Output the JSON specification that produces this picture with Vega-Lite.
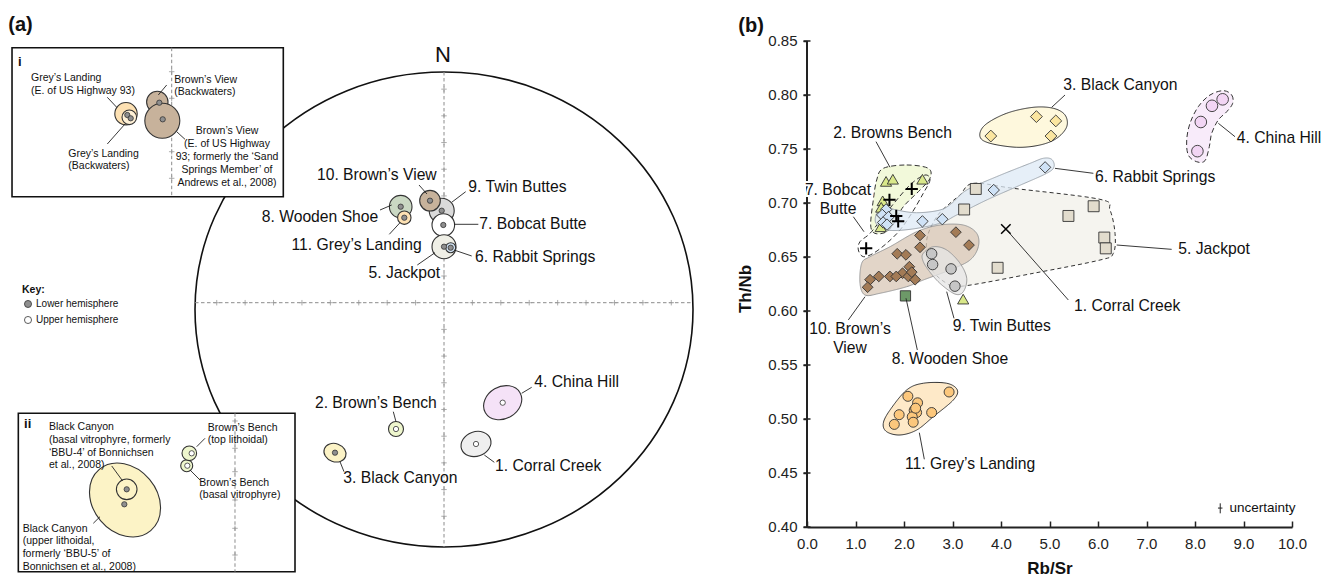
{
  "$schema": "https://vega.github.io/schema/vega-lite/v6.json",
  "background": "white",
  "padding": 5,
  "bounds": "flush",
  "spacing": 102,
  "resolve": {"scale": {"color": "independent", "fill": "independent", "stroke": "independent", "strokeDash": "independent", "shape": "independent", "size": "independent", "angle": "independent"}},
  "config": {"view": {"stroke": null}, "font": "Liberation Sans"},
  "datasets": {
    "netCircle": [{"X": 0, "Y": 0, "r": 1}],
    "netBoxes": [
      {"inset": "i", "X": -1.7349, "Y": 1.1023, "X2": -0.6454, "Y2": 0.4749},
      {"inset": "ii", "X": -1.7096, "Y": -0.4371, "X2": -0.5984, "Y2": -1.104}
    ],
    "netLines": [
      {"X": 0, "Y": 1.0, "X2": 0, "Y2": -1.0},
      {"X": -1.0, "Y": 0.0286, "X2": 1.0, "Y2": 0.0286},
      {"X": -1.0936, "Y": 1.1023, "X2": -1.0936, "Y2": 0.4749},
      {"X": -0.8394, "Y": -0.4371, "X2": -0.8394, "Y2": -1.104}
    ],
    "netTicks": [
      {"X": 0, "Y": 0.141}, {"X": 0, "Y": 0.2534}, {"X": 0, "Y": 0.3658}, {"X": 0, "Y": 0.4782},
      {"X": 0, "Y": 0.5906}, {"X": 0, "Y": 0.703}, {"X": 0, "Y": 0.8154}, {"X": 0, "Y": 0.9278},
      {"X": 0, "Y": -0.0838}, {"X": 0, "Y": -0.1962}, {"X": 0, "Y": -0.3086}, {"X": 0, "Y": -0.421},
      {"X": 0, "Y": -0.5334}, {"X": 0, "Y": -0.6458}, {"X": 0, "Y": -0.7582}, {"X": 0, "Y": -0.8706},
      {"X": 0.1141, "Y": 0.0286}, {"X": 0.2282, "Y": 0.0286}, {"X": 0.3423, "Y": 0.0286}, {"X": 0.4564, "Y": 0.0286},
      {"X": 0.5705, "Y": 0.0286}, {"X": 0.6846, "Y": 0.0286}, {"X": 0.7987, "Y": 0.0286}, {"X": 0.9128, "Y": 0.0286},
      {"X": -0.1141, "Y": 0.0286}, {"X": -0.2282, "Y": 0.0286}, {"X": -0.3423, "Y": 0.0286}, {"X": -0.4564, "Y": 0.0286},
      {"X": -0.5705, "Y": 0.0286}, {"X": -0.6846, "Y": 0.0286}, {"X": -0.7987, "Y": 0.0286}, {"X": -0.9128, "Y": 0.0286},
      {"X": -1.0936, "Y": 1.0013}, {"X": -1.0936, "Y": 0.8893}, {"X": -1.0936, "Y": 0.7768}, {"X": -1.0936, "Y": 0.6644}, {"X": -1.0936, "Y": 0.5524},
      {"X": -0.8394, "Y": -0.4695}, {"X": -0.8394, "Y": -0.5844}, {"X": -0.8394, "Y": -0.6829}, {"X": -0.8394, "Y": -0.8021}, {"X": -0.8394, "Y": -0.9213}, {"X": -0.8394, "Y": -1.0337}
    ],
    "netEllipses": [
      {"unit": "Twin Buttes", "X": -0.0092, "Y": 0.416, "r": 0.0502, "form": "circle", "tilt": 0},
      {"unit": "Browns View", "X": -0.0562, "Y": 0.4581, "r": 0.0414, "form": "circle", "tilt": 0},
      {"unit": "Bobcat Butte", "X": -0.0028, "Y": 0.3558, "r": 0.0454, "form": "circle", "tilt": 0},
      {"unit": "Jackpot", "X": 0, "Y": 0.2644, "r": 0.0482, "form": "circle", "tilt": 0},
      {"unit": "Rabbit Springs", "X": 0.0269, "Y": 0.2602, "r": 0.0201, "form": "circle", "tilt": 0},
      {"unit": "Wooden Shoe", "X": -0.1739, "Y": 0.4328, "r": 0.0454, "form": "circle", "tilt": 0},
      {"unit": "Greys Landing", "X": -0.1594, "Y": 0.3865, "r": 0.0269, "form": "circle", "tilt": 0},
      {"unit": "China Hill", "X": 0.2357, "Y": -0.3924, "r": 0.0803, "form": "ellipse", "tilt": -30},
      {"unit": "Corral Creek", "X": 0.1285, "Y": -0.5663, "r": 0.0614, "form": "ellipse", "tilt": -20},
      {"unit": "Browns Bench", "X": -0.1928, "Y": -0.5032, "r": 0.0301, "form": "circle", "tilt": 0},
      {"unit": "Black Canyon", "X": -0.4378, "Y": -0.6029, "r": 0.0454, "form": "ellipse", "tilt": 20},
      {"unit": "Browns View", "X": -1.1514, "Y": 0.8737, "r": 0.043, "form": "circle", "tilt": 0},
      {"unit": "Browns View", "X": -1.1313, "Y": 0.7949, "r": 0.0703, "form": "circle", "tilt": 0},
      {"unit": "Greys Landing", "X": -1.2771, "Y": 0.8244, "r": 0.045, "form": "circle", "tilt": 0},
      {"unit": "Greys Landing (Backwaters)", "X": -1.2639, "Y": 0.8093, "r": 0.0293, "form": "circle", "tilt": 0},
      {"unit": "Black Canyon", "X": -1.2811, "Y": -0.8021, "r": 0.1606, "form": "ellipse", "tilt": 50},
      {"unit": "Black Canyon", "X": -1.2743, "Y": -0.7571, "r": 0.0414, "form": "circle", "tilt": 0},
      {"unit": "Browns Bench", "X": -1.0333, "Y": -0.6577, "r": 0.0241, "form": "circle", "tilt": 0},
      {"unit": "Browns Bench", "X": -1.0229, "Y": -0.6055, "r": 0.0293, "form": "circle", "tilt": 0}
    ],
    "netDots": [
      {"X": -0.0092, "Y": 0.416, "hemi": "lower"}, {"X": -0.0562, "Y": 0.4581, "hemi": "lower"},
      {"X": -0.0028, "Y": 0.3558, "hemi": "lower"}, {"X": 0, "Y": 0.2644, "hemi": "lower"},
      {"X": 0.0269, "Y": 0.2602, "hemi": "lower"}, {"X": -0.1739, "Y": 0.4328, "hemi": "lower"},
      {"X": -0.1594, "Y": 0.3865, "hemi": "lower"}, {"X": -0.4378, "Y": -0.6029, "hemi": "lower"},
      {"X": 0.2357, "Y": -0.3924, "hemi": "upper"}, {"X": 0.1285, "Y": -0.5663, "hemi": "upper"},
      {"X": -0.1928, "Y": -0.5032, "hemi": "upper"},
      {"X": -1.1434, "Y": 0.8707, "hemi": "lower"}, {"X": -1.1297, "Y": 0.8008, "hemi": "lower"},
      {"X": -1.2719, "Y": 0.8189, "hemi": "lower"}, {"X": -1.2582, "Y": 0.8051, "hemi": "lower"},
      {"X": -1.2743, "Y": -0.7571, "hemi": "lower"}, {"X": -1.2839, "Y": -0.8202, "hemi": "lower"},
      {"X": -1.0133, "Y": -0.6055, "hemi": "upper"}, {"X": -1.0309, "Y": -0.6577, "hemi": "upper"}
    ],
    "netLeaders": [
      {"X": -0.1004, "Y": 0.5242, "X2": -0.0683, "Y2": 0.4863},
      {"X": 0.0309, "Y": 0.4514, "X2": 0.0871, "Y2": 0.496},
      {"X": 0.0402, "Y": 0.3587, "X2": 0.1378, "Y2": 0.3587},
      {"X": 0.0402, "Y": 0.2505, "X2": 0.1112, "Y2": 0.2253},
      {"X": -0.0361, "Y": 0.2392, "X2": -0.1072, "Y2": 0.1874},
      {"X": -0.257, "Y": 0.4189, "X2": -0.21, "Y2": 0.44},
      {"X": -0.2197, "Y": 0.3166, "X2": -0.1767, "Y2": 0.3655},
      {"X": 0.312, "Y": -0.3528, "X2": 0.3522, "Y2": -0.3276},
      {"X": -0.2036, "Y": -0.4303, "X2": -0.1928, "Y2": -0.4724},
      {"X": -0.4177, "Y": -0.6408, "X2": -0.4016, "Y2": -0.6829},
      {"X": 0.1618, "Y": -0.6126, "X2": 0.202, "Y2": -0.6434},
      {"X": -1.3522, "Y": 0.8935, "X2": -1.3145, "Y2": 0.8514},
      {"X": -1.3522, "Y": 0.6968, "X2": -1.2811, "Y2": 0.7811},
      {"X": -1.1474, "Y": 0.9032, "X2": -1.1137, "Y2": 0.9453},
      {"X": -1.0735, "Y": 0.7486, "X2": -1.0402, "Y2": 0.7166},
      {"X": -1.3345, "Y": -0.6589, "X2": -1.2904, "Y2": -0.7221},
      {"X": -1.4084, "Y": -0.9002, "X2": -1.3815, "Y2": -0.8724},
      {"X": -0.9932, "Y": -0.5777, "X2": -0.9598, "Y2": -0.5423},
      {"X": -1.0201, "Y": -0.6758, "X2": -0.9799, "Y2": -0.7179}
    ],
    "netText": [
      {"kind": "label-left", "text": "9. Twin Buttes", "X": 0.0976, "Y": 0.5171},
      {"kind": "label-left", "text": "7. Bobcat Butte", "X": 0.1418, "Y": 0.3587},
      {"kind": "label-left", "text": "6. Rabbit Springs", "X": 0.1245, "Y": 0.2223},
      {"kind": "label-left", "text": "4. China Hill", "X": 0.3627, "Y": -0.3053},
      {"kind": "label-left", "text": "3. Black Canyon", "X": -0.4044, "Y": -0.7082},
      {"kind": "label-left", "text": "1. Corral Creek", "X": 0.2048, "Y": -0.6589},
      {"kind": "label-right", "text": "10. Brown’s View", "X": -0.0293, "Y": 0.5663},
      {"kind": "label-right", "text": "5. Jackpot", "X": -0.0161, "Y": 0.1549},
      {"kind": "label-right", "text": "8. Wooden Shoe", "X": -0.2639, "Y": 0.3882},
      {"kind": "label-right", "text": "11. Grey’s Landing", "X": -0.0896, "Y": 0.2716},
      {"kind": "label-right", "text": "2. Brown’s Bench", "X": -0.0293, "Y": -0.3924},
      {"kind": "north", "text": "N", "X": -0.004, "Y": 1.0716},
      {"kind": "panel", "text": "(a)", "X": -1.7498, "Y": 1.1979},
      {"kind": "inset-left", "text": "Grey’s Landing\n(E. of US Highway 93)", "X": -1.6586, "Y": 0.9959},
      {"kind": "inset-left", "text": "Grey’s Landing\n(Backwaters)", "X": -1.5088, "Y": 0.6772},
      {"kind": "inset-left", "text": "Brown’s View\n(Backwaters)", "X": -1.0831, "Y": 0.9888},
      {"kind": "inset-left", "text": "Black Canyon\n(basal vitrophyre, formerly\n‘BBU-4’ of Bonnichsen\net al., 2008)", "X": -1.5863, "Y": -0.4737},
      {"kind": "inset-left", "text": "Black Canyon\n(upper lithoidal,\n formerly ‘BBU-5’ of\nBonnichsen et al., 2008)", "X": -1.692, "Y": -0.9015},
      {"kind": "inset-left", "text": "Brown’s Bench\n(top lithoidal)", "X": -0.949, "Y": -0.4762},
      {"kind": "inset-left", "text": "Brown’s Bench\n(basal vitrophyre)", "X": -0.9827, "Y": -0.7078},
      {"kind": "inset-center", "text": "Brown’s View\n(E. of US Highway\n93; formerly the ‘Sand\nSprings Member’ of\nAndrews et al., 2008)", "X": -0.8715, "Y": 0.7726},
      {"kind": "inset-tag", "text": "i", "X": -1.7108, "Y": 1.0434},
      {"kind": "inset-tag", "text": "ii", "X": -1.6867, "Y": -0.4821},
      {"kind": "key-title", "text": "Key:", "X": -1.6948, "Y": 0.0821}
    ],
    "netKey": [
      {"X": -1.6707, "Y": 0.0232, "hemi": "lower", "text": "Lower hemisphere"},
      {"X": -1.6707, "Y": -0.0442, "hemi": "upper", "text": "Upper hemisphere"}
    ],
    "blobs": [
      {"unit": "Jackpot", "i": 1, "RbSr": 3.155, "ThNb": 0.7074}, {"unit": "Jackpot", "i": 2, "RbSr": 3.43, "ThNb": 0.7182},
      {"unit": "Jackpot", "i": 3, "RbSr": 4.254, "ThNb": 0.7136}, {"unit": "Jackpot", "i": 4, "RbSr": 6.041, "ThNb": 0.7034},
      {"unit": "Jackpot", "i": 5, "RbSr": 6.247, "ThNb": 0.6935}, {"unit": "Jackpot", "i": 6, "RbSr": 6.351, "ThNb": 0.6719},
      {"unit": "Jackpot", "i": 7, "RbSr": 6.316, "ThNb": 0.6534}, {"unit": "Jackpot", "i": 8, "RbSr": 6.041, "ThNb": 0.6472},
      {"unit": "Jackpot", "i": 9, "RbSr": 4.666, "ThNb": 0.6349}, {"unit": "Jackpot", "i": 10, "RbSr": 3.223, "ThNb": 0.6231},
      {"unit": "Jackpot", "i": 11, "RbSr": 2.88, "ThNb": 0.6256}, {"unit": "Jackpot", "i": 12, "RbSr": 2.536, "ThNb": 0.641},
      {"unit": "Jackpot", "i": 13, "RbSr": 2.468, "ThNb": 0.6657}, {"unit": "Jackpot", "i": 14, "RbSr": 2.674, "ThNb": 0.6873},
      {"unit": "Jackpot", "i": 15, "RbSr": 2.948, "ThNb": 0.6997},
      {"unit": "Browns Bench", "i": 1, "RbSr": 1.573, "ThNb": 0.7321}, {"unit": "Browns Bench", "i": 2, "RbSr": 2.056, "ThNb": 0.7352},
      {"unit": "Browns Bench", "i": 3, "RbSr": 2.501, "ThNb": 0.7321}, {"unit": "Browns Bench", "i": 4, "RbSr": 2.536, "ThNb": 0.7229},
      {"unit": "Browns Bench", "i": 5, "RbSr": 2.33, "ThNb": 0.712}, {"unit": "Browns Bench", "i": 6, "RbSr": 1.986, "ThNb": 0.6966},
      {"unit": "Browns Bench", "i": 7, "RbSr": 1.814, "ThNb": 0.6827}, {"unit": "Browns Bench", "i": 8, "RbSr": 1.643, "ThNb": 0.6734},
      {"unit": "Browns Bench", "i": 9, "RbSr": 1.402, "ThNb": 0.6719}, {"unit": "Browns Bench", "i": 10, "RbSr": 1.313, "ThNb": 0.6796},
      {"unit": "Browns Bench", "i": 11, "RbSr": 1.367, "ThNb": 0.7028}, {"unit": "Browns Bench", "i": 12, "RbSr": 1.437, "ThNb": 0.7213},
      {"unit": "Bobcat Butte", "i": 1, "RbSr": 1.093, "ThNb": 0.6642}, {"unit": "Bobcat Butte", "i": 2, "RbSr": 1.299, "ThNb": 0.6719},
      {"unit": "Bobcat Butte", "i": 3, "RbSr": 1.573, "ThNb": 0.6873}, {"unit": "Bobcat Butte", "i": 4, "RbSr": 1.849, "ThNb": 0.7028},
      {"unit": "Bobcat Butte", "i": 5, "RbSr": 2.159, "ThNb": 0.7182}, {"unit": "Bobcat Butte", "i": 6, "RbSr": 2.433, "ThNb": 0.7259},
      {"unit": "Bobcat Butte", "i": 7, "RbSr": 2.536, "ThNb": 0.7213}, {"unit": "Bobcat Butte", "i": 8, "RbSr": 2.398, "ThNb": 0.709},
      {"unit": "Bobcat Butte", "i": 9, "RbSr": 2.159, "ThNb": 0.6905}, {"unit": "Bobcat Butte", "i": 10, "RbSr": 1.918, "ThNb": 0.675},
      {"unit": "Bobcat Butte", "i": 11, "RbSr": 1.643, "ThNb": 0.6627}, {"unit": "Bobcat Butte", "i": 12, "RbSr": 1.367, "ThNb": 0.6534},
      {"unit": "Bobcat Butte", "i": 13, "RbSr": 1.161, "ThNb": 0.6503}, {"unit": "Bobcat Butte", "i": 14, "RbSr": 1.058, "ThNb": 0.6565},
      {"unit": "Rabbit Springs", "i": 1, "RbSr": 1.643, "ThNb": 0.675}, {"unit": "Rabbit Springs", "i": 2, "RbSr": 2.124, "ThNb": 0.6756},
      {"unit": "Rabbit Springs", "i": 3, "RbSr": 2.742, "ThNb": 0.6812}, {"unit": "Rabbit Springs", "i": 4, "RbSr": 3.087, "ThNb": 0.6889},
      {"unit": "Rabbit Springs", "i": 5, "RbSr": 3.705, "ThNb": 0.7028}, {"unit": "Rabbit Springs", "i": 6, "RbSr": 4.324, "ThNb": 0.7151},
      {"unit": "Rabbit Springs", "i": 7, "RbSr": 4.942, "ThNb": 0.7275}, {"unit": "Rabbit Springs", "i": 8, "RbSr": 5.093, "ThNb": 0.7336},
      {"unit": "Rabbit Springs", "i": 9, "RbSr": 5.045, "ThNb": 0.7404}, {"unit": "Rabbit Springs", "i": 10, "RbSr": 4.873, "ThNb": 0.7414},
      {"unit": "Rabbit Springs", "i": 11, "RbSr": 4.598, "ThNb": 0.7367}, {"unit": "Rabbit Springs", "i": 12, "RbSr": 3.911, "ThNb": 0.7244},
      {"unit": "Rabbit Springs", "i": 13, "RbSr": 3.293, "ThNb": 0.712}, {"unit": "Rabbit Springs", "i": 14, "RbSr": 2.983, "ThNb": 0.6997},
      {"unit": "Rabbit Springs", "i": 15, "RbSr": 2.742, "ThNb": 0.6935}, {"unit": "Rabbit Springs", "i": 16, "RbSr": 2.261, "ThNb": 0.691},
      {"unit": "Rabbit Springs", "i": 17, "RbSr": 1.849, "ThNb": 0.6935}, {"unit": "Rabbit Springs", "i": 18, "RbSr": 1.574, "ThNb": 0.6966},
      {"unit": "Rabbit Springs", "i": 19, "RbSr": 1.437, "ThNb": 0.6905}, {"unit": "Rabbit Springs", "i": 20, "RbSr": 1.423, "ThNb": 0.6812},
      {"unit": "Browns View", "i": 1, "RbSr": 1.128, "ThNb": 0.6442}, {"unit": "Browns View", "i": 2, "RbSr": 1.299, "ThNb": 0.6503},
      {"unit": "Browns View", "i": 3, "RbSr": 1.711, "ThNb": 0.6595}, {"unit": "Browns View", "i": 4, "RbSr": 2.262, "ThNb": 0.6734},
      {"unit": "Browns View", "i": 5, "RbSr": 2.742, "ThNb": 0.6796}, {"unit": "Browns View", "i": 6, "RbSr": 3.223, "ThNb": 0.6796},
      {"unit": "Browns View", "i": 7, "RbSr": 3.499, "ThNb": 0.6719}, {"unit": "Browns View", "i": 8, "RbSr": 3.532, "ThNb": 0.6595},
      {"unit": "Browns View", "i": 9, "RbSr": 3.361, "ThNb": 0.6472}, {"unit": "Browns View", "i": 10, "RbSr": 2.948, "ThNb": 0.638},
      {"unit": "Browns View", "i": 11, "RbSr": 2.398, "ThNb": 0.6287}, {"unit": "Browns View", "i": 12, "RbSr": 2.056, "ThNb": 0.6225},
      {"unit": "Browns View", "i": 13, "RbSr": 1.505, "ThNb": 0.6164}, {"unit": "Browns View", "i": 14, "RbSr": 1.196, "ThNb": 0.6148},
      {"unit": "Browns View", "i": 15, "RbSr": 1.093, "ThNb": 0.6256},
      {"unit": "Twin Buttes", "i": 1, "RbSr": 2.398, "ThNb": 0.6534}, {"unit": "Twin Buttes", "i": 2, "RbSr": 2.604, "ThNb": 0.6595},
      {"unit": "Twin Buttes", "i": 3, "RbSr": 2.88, "ThNb": 0.6565}, {"unit": "Twin Buttes", "i": 4, "RbSr": 3.155, "ThNb": 0.6442},
      {"unit": "Twin Buttes", "i": 5, "RbSr": 3.293, "ThNb": 0.6303}, {"unit": "Twin Buttes", "i": 6, "RbSr": 3.223, "ThNb": 0.6179},
      {"unit": "Twin Buttes", "i": 7, "RbSr": 3.052, "ThNb": 0.6157}, {"unit": "Twin Buttes", "i": 8, "RbSr": 2.742, "ThNb": 0.6256},
      {"unit": "Twin Buttes", "i": 9, "RbSr": 2.501, "ThNb": 0.638}, {"unit": "Twin Buttes", "i": 10, "RbSr": 2.385, "ThNb": 0.6472},
      {"unit": "Black Canyon", "i": 1, "RbSr": 3.567, "ThNb": 0.7614}, {"unit": "Black Canyon", "i": 2, "RbSr": 3.67, "ThNb": 0.7722},
      {"unit": "Black Canyon", "i": 3, "RbSr": 4.118, "ThNb": 0.7831}, {"unit": "Black Canyon", "i": 4, "RbSr": 4.666, "ThNb": 0.7886},
      {"unit": "Black Canyon", "i": 5, "RbSr": 5.078, "ThNb": 0.7877}, {"unit": "Black Canyon", "i": 6, "RbSr": 5.32, "ThNb": 0.7815},
      {"unit": "Black Canyon", "i": 7, "RbSr": 5.355, "ThNb": 0.7706}, {"unit": "Black Canyon", "i": 8, "RbSr": 5.148, "ThNb": 0.7599},
      {"unit": "Black Canyon", "i": 9, "RbSr": 4.804, "ThNb": 0.7537}, {"unit": "Black Canyon", "i": 10, "RbSr": 4.324, "ThNb": 0.7516},
      {"unit": "Black Canyon", "i": 11, "RbSr": 3.773, "ThNb": 0.7553},
      {"unit": "China Hill", "i": 1, "RbSr": 8.584, "ThNb": 0.804}, {"unit": "China Hill", "i": 2, "RbSr": 8.757, "ThNb": 0.8},
      {"unit": "China Hill", "i": 3, "RbSr": 8.777, "ThNb": 0.7923}, {"unit": "China Hill", "i": 4, "RbSr": 8.654, "ThNb": 0.7845},
      {"unit": "China Hill", "i": 5, "RbSr": 8.481, "ThNb": 0.7769}, {"unit": "China Hill", "i": 6, "RbSr": 8.344, "ThNb": 0.7645},
      {"unit": "China Hill", "i": 7, "RbSr": 8.295, "ThNb": 0.7521}, {"unit": "China Hill", "i": 8, "RbSr": 8.206, "ThNb": 0.7392},
      {"unit": "China Hill", "i": 9, "RbSr": 8.035, "ThNb": 0.7382}, {"unit": "China Hill", "i": 10, "RbSr": 7.862, "ThNb": 0.7444},
      {"unit": "China Hill", "i": 11, "RbSr": 7.829, "ThNb": 0.7583}, {"unit": "China Hill", "i": 12, "RbSr": 7.897, "ThNb": 0.7738},
      {"unit": "China Hill", "i": 13, "RbSr": 8.068, "ThNb": 0.7892}, {"unit": "China Hill", "i": 14, "RbSr": 8.309, "ThNb": 0.8},
      {"unit": "Greys Landing", "i": 1, "RbSr": 1.573, "ThNb": 0.496}, {"unit": "Greys Landing", "i": 2, "RbSr": 1.711, "ThNb": 0.5083},
      {"unit": "Greys Landing", "i": 3, "RbSr": 2.056, "ThNb": 0.5269}, {"unit": "Greys Landing", "i": 4, "RbSr": 2.398, "ThNb": 0.5331},
      {"unit": "Greys Landing", "i": 5, "RbSr": 2.88, "ThNb": 0.5331}, {"unit": "Greys Landing", "i": 6, "RbSr": 3.099, "ThNb": 0.5269},
      {"unit": "Greys Landing", "i": 7, "RbSr": 3.017, "ThNb": 0.5176}, {"unit": "Greys Landing", "i": 8, "RbSr": 2.604, "ThNb": 0.5021},
      {"unit": "Greys Landing", "i": 9, "RbSr": 2.262, "ThNb": 0.4898}, {"unit": "Greys Landing", "i": 10, "RbSr": 1.918, "ThNb": 0.4852},
      {"unit": "Greys Landing", "i": 11, "RbSr": 1.643, "ThNb": 0.4882}
    ],
    "bPoints": [
      {"unit": "Black Canyon", "RbSr": 3.79, "ThNb": 0.762}, {"unit": "Black Canyon", "RbSr": 4.73, "ThNb": 0.78},
      {"unit": "Black Canyon", "RbSr": 5.13, "ThNb": 0.776}, {"unit": "Black Canyon", "RbSr": 5.03, "ThNb": 0.762},
      {"unit": "China Hill", "RbSr": 8.57, "ThNb": 0.796}, {"unit": "China Hill", "RbSr": 8.35, "ThNb": 0.79},
      {"unit": "China Hill", "RbSr": 8.12, "ThNb": 0.775}, {"unit": "China Hill", "RbSr": 8.05, "ThNb": 0.748},
      {"unit": "Jackpot", "RbSr": 3.48, "ThNb": 0.713}, {"unit": "Jackpot", "RbSr": 3.24, "ThNb": 0.694},
      {"unit": "Jackpot", "RbSr": 5.39, "ThNb": 0.688}, {"unit": "Jackpot", "RbSr": 5.91, "ThNb": 0.697},
      {"unit": "Jackpot", "RbSr": 6.13, "ThNb": 0.668}, {"unit": "Jackpot", "RbSr": 6.16, "ThNb": 0.658},
      {"unit": "Jackpot", "RbSr": 3.93, "ThNb": 0.64},
      {"unit": "Browns Bench", "RbSr": 1.63, "ThNb": 0.72}, {"unit": "Browns Bench", "RbSr": 1.77, "ThNb": 0.722},
      {"unit": "Browns Bench", "RbSr": 2.38, "ThNb": 0.722}, {"unit": "Browns Bench", "RbSr": 1.56, "ThNb": 0.702},
      {"unit": "Browns Bench", "RbSr": 1.53, "ThNb": 0.696}, {"unit": "Browns Bench", "RbSr": 1.52, "ThNb": 0.678},
      {"unit": "Browns Bench", "RbSr": 3.22, "ThNb": 0.611},
      {"unit": "Rabbit Springs", "RbSr": 4.91, "ThNb": 0.733}, {"unit": "Rabbit Springs", "RbSr": 3.85, "ThNb": 0.712},
      {"unit": "Rabbit Springs", "RbSr": 2.79, "ThNb": 0.685}, {"unit": "Rabbit Springs", "RbSr": 2.38, "ThNb": 0.683},
      {"unit": "Rabbit Springs", "RbSr": 1.63, "ThNb": 0.694}, {"unit": "Rabbit Springs", "RbSr": 1.55, "ThNb": 0.689},
      {"unit": "Rabbit Springs", "RbSr": 1.68, "ThNb": 0.687}, {"unit": "Rabbit Springs", "RbSr": 1.57, "ThNb": 0.682},
      {"unit": "Rabbit Springs", "RbSr": 1.65, "ThNb": 0.68},
      {"unit": "Twin Buttes", "RbSr": 2.57, "ThNb": 0.653}, {"unit": "Twin Buttes", "RbSr": 2.59, "ThNb": 0.643},
      {"unit": "Twin Buttes", "RbSr": 2.97, "ThNb": 0.639}, {"unit": "Twin Buttes", "RbSr": 3.05, "ThNb": 0.623},
      {"unit": "Browns View", "RbSr": 2.33, "ThNb": 0.67}, {"unit": "Browns View", "RbSr": 3.07, "ThNb": 0.673},
      {"unit": "Browns View", "RbSr": 3.34, "ThNb": 0.661}, {"unit": "Browns View", "RbSr": 2.33, "ThNb": 0.659},
      {"unit": "Browns View", "RbSr": 1.86, "ThNb": 0.653}, {"unit": "Browns View", "RbSr": 2.04, "ThNb": 0.652},
      {"unit": "Browns View", "RbSr": 2.11, "ThNb": 0.641}, {"unit": "Browns View", "RbSr": 1.97, "ThNb": 0.635},
      {"unit": "Browns View", "RbSr": 1.71, "ThNb": 0.632}, {"unit": "Browns View", "RbSr": 1.84, "ThNb": 0.632},
      {"unit": "Browns View", "RbSr": 1.48, "ThNb": 0.632}, {"unit": "Browns View", "RbSr": 1.3, "ThNb": 0.629},
      {"unit": "Browns View", "RbSr": 1.25, "ThNb": 0.622}, {"unit": "Browns View", "RbSr": 2.09, "ThNb": 0.632},
      {"unit": "Browns View", "RbSr": 2.23, "ThNb": 0.629}, {"unit": "Browns View", "RbSr": 2.16, "ThNb": 0.636},
      {"unit": "Wooden Shoe", "RbSr": 2.03, "ThNb": 0.614},
      {"unit": "Greys Landing", "RbSr": 2.08, "ThNb": 0.521}, {"unit": "Greys Landing", "RbSr": 2.93, "ThNb": 0.525},
      {"unit": "Greys Landing", "RbSr": 2.28, "ThNb": 0.515}, {"unit": "Greys Landing", "RbSr": 1.9, "ThNb": 0.504},
      {"unit": "Greys Landing", "RbSr": 2.21, "ThNb": 0.508}, {"unit": "Greys Landing", "RbSr": 2.26, "ThNb": 0.506},
      {"unit": "Greys Landing", "RbSr": 2.57, "ThNb": 0.506}, {"unit": "Greys Landing", "RbSr": 2.17, "ThNb": 0.502},
      {"unit": "Greys Landing", "RbSr": 1.8, "ThNb": 0.495}, {"unit": "Greys Landing", "RbSr": 2.19, "ThNb": 0.497},
      {"unit": "Greys Landing", "RbSr": 2.24, "ThNb": 0.51},
      {"unit": "Bobcat Butte", "RbSr": 2.16, "ThNb": 0.713}, {"unit": "Bobcat Butte", "RbSr": 1.7, "ThNb": 0.703},
      {"unit": "Bobcat Butte", "RbSr": 1.84, "ThNb": 0.688}, {"unit": "Bobcat Butte", "RbSr": 1.88, "ThNb": 0.683},
      {"unit": "Bobcat Butte", "RbSr": 1.22, "ThNb": 0.658},
      {"unit": "Corral Creek", "RbSr": 4.1, "ThNb": 0.676}
    ],
    "bLeaders": [
      {"RbSr": 5.32, "ThNb": 0.8, "RbSr2": 5.045, "ThNb2": 0.7886},
      {"RbSr": 8.825, "ThNb": 0.7614, "RbSr2": 8.481, "ThNb2": 0.7738},
      {"RbSr": 1.423, "ThNb": 0.7568, "RbSr2": 1.711, "ThNb2": 0.7331},
      {"RbSr": 5.113, "ThNb": 0.7321, "RbSr2": 5.904, "ThNb2": 0.7275},
      {"RbSr": 0.955, "ThNb": 0.6873, "RbSr2": 1.175, "ThNb2": 0.6734},
      {"RbSr": 6.385, "ThNb": 0.6611, "RbSr2": 7.519, "ThNb2": 0.6571},
      {"RbSr": 4.118, "ThNb": 0.675, "RbSr2": 5.388, "ThNb2": 0.6102},
      {"RbSr": 2.88, "ThNb": 0.6179, "RbSr2": 3.031, "ThNb2": 0.5932},
      {"RbSr": 0.852, "ThNb": 0.5917, "RbSr2": 1.196, "ThNb2": 0.6132},
      {"RbSr": 2.041, "ThNb": 0.6118, "RbSr2": 2.275, "ThNb2": 0.5639},
      {"RbSr": 2.316, "ThNb": 0.4873, "RbSr2": 2.419, "ThNb2": 0.4627}
    ],
    "bText": [
      {"kind": "label-left", "text": "3. Black Canyon", "RbSr": 5.285, "ThNb": 0.8093},
      {"kind": "label-left", "text": "4. China Hill", "RbSr": 8.86, "ThNb": 0.7599},
      {"kind": "label-left", "text": "2. Browns Bench", "RbSr": 0.543, "ThNb": 0.7651},
      {"kind": "label-left", "text": "6. Rabbit Springs", "RbSr": 5.938, "ThNb": 0.7244},
      {"kind": "label-left", "text": "5. Jackpot", "RbSr": 7.656, "ThNb": 0.6571},
      {"kind": "label-left", "text": "1. Corral Creek", "RbSr": 5.505, "ThNb": 0.6049},
      {"kind": "label-left", "text": "9. Twin Buttes", "RbSr": 3.004, "ThNb": 0.5861},
      {"kind": "label-left", "text": "8. Wooden Shoe", "RbSr": 1.746, "ThNb": 0.5559},
      {"kind": "label-left", "text": "11. Grey’s Landing", "RbSr": 2.021, "ThNb": 0.4581},
      {"kind": "label-center", "text": "7. Bobcat\nButte", "RbSr": 0.64, "ThNb": 0.7182},
      {"kind": "label-center", "text": "10. Brown’s\nView", "RbSr": 0.887, "ThNb": 0.5898},
      {"kind": "panel", "text": "(b)", "RbSr": -1.4165, "ThNb": 0.8639},
      {"kind": "note", "text": "uncertainty", "RbSr": 8.71, "ThNb": 0.4173}
    ],
    "bSymbol": [{"RbSr": 8.52, "ThNb": 0.4173}],
    "bYAxis": [{"RbSr": 0, "ThNb": 0.4}, {"RbSr": 0, "ThNb": 0.85}],
    "bYTicks": [
      {"RbSr": 0, "ThNb": 0.4}, {"RbSr": 0, "ThNb": 0.45}, {"RbSr": 0, "ThNb": 0.5}, {"RbSr": 0, "ThNb": 0.55}, {"RbSr": 0, "ThNb": 0.6},
      {"RbSr": 0, "ThNb": 0.65}, {"RbSr": 0, "ThNb": 0.7}, {"RbSr": 0, "ThNb": 0.75}, {"RbSr": 0, "ThNb": 0.8}, {"RbSr": 0, "ThNb": 0.85}
    ]
  },
  "hconcat": [
    {
      "width": 700,
      "height": 567,
      "encoding": {
        "x": {"field": "X", "type": "quantitative", "scale": {"domain": [-1.7631, 1.0482], "nice": false, "zero": false}, "axis": null},
        "y": {"field": "Y", "type": "quantitative", "scale": {"domain": [-1.1053, 1.2821], "nice": false, "zero": false}, "axis": null}
      },
      "layer": [
        {
          "data": {"name": "netCircle"},
          "mark": {"type": "point", "shape": "M -1 0 A 1 0.9538 0 1 1 1 0 A 1 0.9538 0 1 1 -1 0 Z", "filled": false, "opacity": 1, "color": "#111", "stroke": "#111", "strokeWidth": 1.6},
          "encoding": {"size": {"field": "r", "type": "quantitative", "scale": {"type": "pow", "exponent": 2, "domain": [0, 1], "range": [0, 248004]}, "legend": null}}
        },
        {
          "data": {"name": "netBoxes"},
          "mark": {"type": "rect", "fill": "white", "stroke": "#111", "strokeWidth": 1.6},
          "encoding": {"x2": {"field": "X2"}, "y2": {"field": "Y2"}}
        },
        {
          "data": {"name": "netLines"},
          "mark": {"type": "rule", "color": "#8c8c8c", "strokeWidth": 1, "strokeDash": [3.5, 2.5]},
          "encoding": {"x2": {"field": "X2"}, "y2": {"field": "Y2"}}
        },
        {
          "data": {"name": "netTicks"},
          "mark": {"type": "point", "shape": "M -1 0 L 1 0 M 0 -1 L 0 1", "filled": false, "opacity": 1, "color": "#999", "stroke": "#999", "strokeWidth": 0.8, "size": 30}
        },
        {
          "data": {"name": "netEllipses"},
          "mark": {"type": "point", "filled": true, "opacity": 1, "stroke": "#333", "strokeWidth": 1.1},
          "encoding": {
            "color": {"field": "unit", "type": "nominal", "legend": null, "scale": {
              "domain": ["Corral Creek", "Browns Bench", "Black Canyon", "China Hill", "Jackpot", "Rabbit Springs", "Bobcat Butte", "Wooden Shoe", "Twin Buttes", "Browns View", "Greys Landing", "Greys Landing (Backwaters)"],
              "range": ["#efefef", "#eef6cd", "#fcf3c6", "#f5e2f7", "#efefe6", "#d3e5f6", "#ffffff", "#cad8c3", "#dadada", "#c7b29b", "#fde1b3", "#fef0d6"]}},
            "shape": {"field": "form", "type": "nominal", "legend": null, "scale": {"domain": ["circle", "ellipse"], "range": ["circle", "M -1 0 A 1 0.8 0 1 1 1 0 A 1 0.8 0 1 1 -1 0 Z"]}},
            "size": {"field": "r", "type": "quantitative", "scale": {"type": "pow", "exponent": 2, "domain": [0, 1], "range": [0, 248004]}, "legend": null},
            "angle": {"field": "tilt", "type": "quantitative", "scale": null}
          }
        },
        {
          "data": {"name": "netDots"},
          "mark": {"type": "point", "shape": "circle", "filled": true, "opacity": 1, "stroke": "#333", "strokeWidth": 0.8, "size": 28},
          "encoding": {"fill": {"field": "hemi", "type": "nominal", "legend": null, "scale": {"domain": ["lower", "upper"], "range": ["#8f8f8f", "#ffffff"]}}}
        },
        {
          "data": {"name": "netLeaders"},
          "mark": {"type": "rule", "color": "#222", "strokeWidth": 0.9},
          "encoding": {"x2": {"field": "X2"}, "y2": {"field": "Y2"}}
        },
        {
          "data": {"name": "netText"},
          "transform": [{"filter": "datum.kind == 'label-left'"}],
          "mark": {"type": "text", "align": "left", "baseline": "middle", "fontSize": 15.7, "color": "#111"},
          "encoding": {"text": {"field": "text"}}
        },
        {
          "data": {"name": "netText"},
          "transform": [{"filter": "datum.kind == 'label-right'"}],
          "mark": {"type": "text", "align": "right", "baseline": "middle", "fontSize": 15.7, "color": "#111"},
          "encoding": {"text": {"field": "text"}}
        },
        {
          "data": {"name": "netText"},
          "transform": [{"filter": "datum.kind == 'north'"}],
          "mark": {"type": "text", "align": "center", "baseline": "middle", "fontSize": 22, "color": "#111"},
          "encoding": {"text": {"field": "text"}}
        },
        {
          "data": {"name": "netText"},
          "transform": [{"filter": "datum.kind == 'panel'"}],
          "mark": {"type": "text", "align": "left", "baseline": "middle", "fontSize": 20, "fontWeight": "bold", "color": "#111"},
          "encoding": {"text": {"field": "text"}}
        },
        {
          "data": {"name": "netText"},
          "transform": [{"filter": "datum.kind == 'inset-left'"}],
          "mark": {"type": "text", "align": "left", "baseline": "top", "fontSize": 10.5, "lineHeight": 12.8, "lineBreak": "\n", "color": "#111"},
          "encoding": {"text": {"field": "text"}}
        },
        {
          "data": {"name": "netText"},
          "transform": [{"filter": "datum.kind == 'inset-center'"}],
          "mark": {"type": "text", "align": "center", "baseline": "top", "fontSize": 10.5, "lineHeight": 13, "lineBreak": "\n", "color": "#111"},
          "encoding": {"text": {"field": "text"}}
        },
        {
          "data": {"name": "netText"},
          "transform": [{"filter": "datum.kind == 'inset-tag'"}],
          "mark": {"type": "text", "align": "left", "baseline": "middle", "fontSize": 13, "fontWeight": "bold", "color": "#111"},
          "encoding": {"text": {"field": "text"}}
        },
        {
          "data": {"name": "netText"},
          "transform": [{"filter": "datum.kind == 'key-title'"}],
          "mark": {"type": "text", "align": "left", "baseline": "middle", "fontSize": 10.5, "fontWeight": "bold", "color": "#111"},
          "encoding": {"text": {"field": "text"}}
        },
        {
          "data": {"name": "netKey"},
          "mark": {"type": "point", "shape": "circle", "filled": true, "opacity": 1, "stroke": "#333", "strokeWidth": 0.8, "size": 50},
          "encoding": {"fill": {"field": "hemi", "type": "nominal", "legend": null, "scale": {"domain": ["lower", "upper"], "range": ["#8f8f8f", "#ffffff"]}}}
        },
        {
          "data": {"name": "netKey"},
          "mark": {"type": "text", "align": "left", "baseline": "middle", "fontSize": 10, "dx": 8, "color": "#111"},
          "encoding": {"text": {"field": "text"}}
        }
      ]
    },
    {
      "width": 485,
      "height": 567,
      "encoding": {
        "x": {"field": "RbSr", "type": "quantitative", "scale": {"domain": [0, 10], "nice": false, "zero": false},
          "axis": {"title": "Rb/Sr", "values": [0, 1, 2, 3, 4, 5, 6, 7, 8, 9, 10], "format": ".1f", "offset": -45, "tickSize": -6, "labelPadding": 15.5, "labelFlush": false, "grid": false,
            "domainColor": "#222", "domainWidth": 2, "tickColor": "#222", "tickWidth": 1.5, "labelFontSize": 15, "labelColor": "#222", "titleFontSize": 17, "titleFontWeight": "bold", "titleColor": "#111", "titlePadding": 9}},
        "y": {"field": "ThNb", "type": "quantitative", "scale": {"domain": [0.358333, 0.883333], "nice": false, "zero": false},
          "axis": {"title": "Th/Nb", "values": [0.4, 0.45, 0.5, 0.55, 0.6, 0.65, 0.7, 0.75, 0.8, 0.85], "format": ".2f", "domain": false, "tickSize": 4, "labelPadding": 6, "grid": false,
            "tickColor": "#222", "tickWidth": 1.5, "labelFontSize": 15, "labelColor": "#222", "titleFontSize": 17, "titleFontWeight": "bold", "titleColor": "#111", "titlePadding": 13}}
      },
      "layer": [
        {
          "data": {"name": "blobs"},
          "mark": {"type": "line", "interpolate": "cardinal-closed", "fillOpacity": 0.75, "strokeWidth": 1},
          "encoding": {
            "order": {"field": "i", "type": "quantitative"},
            "fill": {"field": "unit", "type": "nominal", "legend": null, "scale": {
              "domain": ["Jackpot", "Browns Bench", "Bobcat Butte", "Rabbit Springs", "Browns View", "Twin Buttes", "Black Canyon", "China Hill", "Greys Landing"],
              "range": ["#f1f0e9", "#eef7cd", "transparent", "#dde9f6", "#d8c7b5", "#e6e6e6", "#fdf5d2", "#f6e4f8", "#fde2b6"]}},
            "stroke": {"field": "unit", "type": "nominal", "legend": null, "scale": {
              "domain": ["Jackpot", "Browns Bench", "Bobcat Butte", "Rabbit Springs", "Browns View", "Twin Buttes", "Black Canyon", "China Hill", "Greys Landing"],
              "range": ["#333333", "#333333", "#333333", "#a0a8b0", "#9a9a9a", "#9a9a9a", "#333333", "#333333", "#333333"]}},
            "strokeDash": {"field": "unit", "type": "nominal", "legend": null, "scale": {
              "domain": ["Jackpot", "Browns Bench", "Bobcat Butte", "Rabbit Springs", "Browns View", "Twin Buttes", "Black Canyon", "China Hill", "Greys Landing"],
              "range": [[4, 3], [5, 3], [5, 3], [1, 0], [1, 0], [1, 0], [1, 0], [5, 3], [1, 0]]}}
          }
        },
        {
          "data": {"name": "bYAxis"},
          "mark": {"type": "line", "color": "#222", "strokeWidth": 2},
          "encoding": {"order": {"field": "ThNb", "type": "quantitative"}}
        },
        {
          "data": {"name": "bYTicks"},
          "mark": {"type": "tick", "orient": "horizontal", "color": "#222", "thickness": 1.5, "size": 7, "opacity": 1}
        },
        {
          "data": {"name": "bPoints"},
          "transform": [{"filter": "datum.unit != 'Bobcat Butte' && datum.unit != 'Corral Creek'"}],
          "mark": {"type": "point", "filled": true, "opacity": 1, "stroke": "#333", "strokeWidth": 0.9},
          "encoding": {
            "color": {"field": "unit", "type": "nominal", "legend": null, "scale": {
              "domain": ["Black Canyon", "China Hill", "Rabbit Springs", "Browns Bench", "Jackpot", "Browns View", "Twin Buttes", "Wooden Shoe", "Greys Landing"],
              "range": ["#fbe6a0", "#f2d5f4", "#cfe2f6", "#d9e88a", "#e2dccd", "#a37b56", "#c6c6c6", "#6d9968", "#fcc77c"]}},
            "shape": {"field": "unit", "type": "nominal", "legend": null, "scale": {
              "domain": ["Black Canyon", "China Hill", "Rabbit Springs", "Browns Bench", "Jackpot", "Browns View", "Twin Buttes", "Wooden Shoe", "Greys Landing"],
              "range": ["diamond", "circle", "diamond", "triangle-up", "square", "diamond", "circle", "square", "circle"]}},
            "size": {"field": "unit", "type": "ordinal", "legend": null, "scale": {
              "domain": ["Black Canyon", "China Hill", "Rabbit Springs", "Browns Bench", "Jackpot", "Browns View", "Twin Buttes", "Wooden Shoe", "Greys Landing"],
              "range": [140, 100, 105, 80, 70, 115, 100, 75, 100]}}
          }
        },
        {
          "data": {"name": "bPoints"},
          "transform": [{"filter": "datum.unit == 'Bobcat Butte'"}],
          "mark": {"type": "point", "shape": "M -1 0 L 1 0 M 0 -1 L 0 1", "filled": false, "opacity": 1, "color": "#000", "stroke": "#000", "strokeWidth": 2, "size": 150}
        },
        {
          "data": {"name": "bPoints"},
          "transform": [{"filter": "datum.unit == 'Corral Creek'"}],
          "mark": {"type": "point", "shape": "M -1 -1 L 1 1 M -1 1 L 1 -1", "filled": false, "opacity": 1, "color": "#000", "stroke": "#000", "strokeWidth": 1.5, "size": 90}
        },
        {
          "data": {"name": "bLeaders"},
          "mark": {"type": "rule", "color": "#222", "strokeWidth": 0.9},
          "encoding": {"x2": {"field": "RbSr2"}, "y2": {"field": "ThNb2"}}
        },
        {
          "data": {"name": "bText"},
          "transform": [{"filter": "datum.kind == 'label-left'"}],
          "mark": {"type": "text", "align": "left", "baseline": "middle", "fontSize": 15.7, "color": "#111"},
          "encoding": {"text": {"field": "text"}}
        },
        {
          "data": {"name": "bText"},
          "transform": [{"filter": "datum.kind == 'label-center'"}],
          "mark": {"type": "text", "align": "center", "baseline": "top", "fontSize": 15.7, "lineHeight": 19, "lineBreak": "\n", "color": "white", "stroke": "white", "strokeWidth": 4},
          "encoding": {"text": {"field": "text"}}
        },
        {
          "data": {"name": "bText"},
          "transform": [{"filter": "datum.kind == 'label-center'"}],
          "mark": {"type": "text", "align": "center", "baseline": "top", "fontSize": 15.7, "lineHeight": 19, "lineBreak": "\n", "color": "#111"},
          "encoding": {"text": {"field": "text"}}
        },
        {
          "data": {"name": "bText"},
          "transform": [{"filter": "datum.kind == 'panel'"}],
          "mark": {"type": "text", "align": "left", "baseline": "middle", "fontSize": 20, "fontWeight": "bold", "color": "#111"},
          "encoding": {"text": {"field": "text"}}
        },
        {
          "data": {"name": "bText"},
          "transform": [{"filter": "datum.kind == 'note'"}],
          "mark": {"type": "text", "align": "left", "baseline": "middle", "fontSize": 13.5, "color": "#111"},
          "encoding": {"text": {"field": "text"}}
        },
        {
          "data": {"name": "bSymbol"},
          "mark": {"type": "point", "shape": "M 0 -1 L 0 1 M -0.45 -0.05 L 0.45 -0.05", "filled": false, "opacity": 1, "color": "#222", "stroke": "#222", "strokeWidth": 1, "size": 100}
        }
      ]
    }
  ]
}
